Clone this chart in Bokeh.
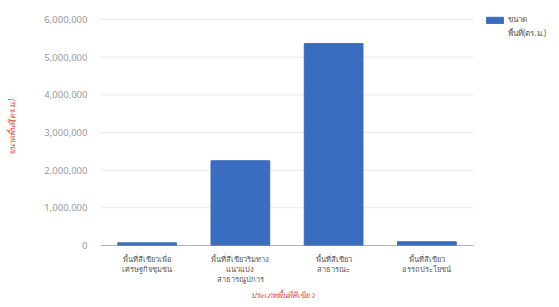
from bokeh.plotting import figure
from bokeh.models import ColumnDataSource, Range1d, NumeralTickFormatter, FixedTicker, Legend, LegendItem, Title
from bokeh.embed import file_html
from bokeh.resources import INLINE

categories = [
    "พื้นที่สีเขียวเพื่อ\nเศรษฐกิจชุมชน",
    "พื้นที่สีเขียวริมทาง\nแนวแบ่ง\nสาธารณูปการ",
    "พื้นที่สีเขียว\nสาธารณะ",
    "พื้นที่สีเขียว\nอรรถประโยชน์",
]
areas = [70000, 2250000, 5360000, 100000]
y_ticks = [0, 1000000, 2000000, 3000000, 4000000, 5000000, 6000000]
x_title = "ประเภทพื้นที่สีเขียว"
y_title = "ขนาดพื้นที่(ตร.ม.)"
legend_lines = ["ขนาด", "พื้นที่(ตร.ม.)"]

FONT = "Noto Sans"
BAR = "#3a6cbf"
RED = "#e0483d"

n = len(categories)
xpos = [i + 0.5 for i in range(n)]
src = ColumnDataSource(dict(x=xpos, val=areas))

FRAME_L, FRAME_R_CAT = 100, 473
W, H = 559, 307
TOP, GRID_TOP, BOTTOM = 8, 19, 245
cat_px = (FRAME_R_CAT - FRAME_L) / n
x_end = (W - FRAME_L) / cat_px
y_max = y_ticks[-1]
y_end = y_max * (BOTTOM - TOP) / (BOTTOM - GRID_TOP)

p = figure(width=W, height=H, output_backend="svg", toolbar_location=None,
           x_range=Range1d(0, x_end), y_range=Range1d(0, y_end),
           min_border_left=FRAME_L, min_border_right=0, min_border_top=TOP,
           min_border_bottom=H - BOTTOM)
p.outline_line_color = None
p.xgrid.grid_line_color = None
p.ygrid.grid_line_color = None

# gridlines within the category area
p.segment(x0=0, x1=n, y0=y_ticks[1:], y1=y_ticks[1:], line_color="#e8e8e8", line_width=1)
r = p.vbar(x="x", top="val", width=0.63, source=src, color=BAR)
p.segment(x0=[0], x1=[n], y0=[0], y1=[0], line_color="#666666", line_width=1.2)
blank = p.scatter(x=[], y=[], alpha=0)

p.yaxis.ticker = FixedTicker(ticks=y_ticks)
p.yaxis.formatter = NumeralTickFormatter(format="0,0")
p.yaxis.axis_line_color = None
p.yaxis.major_tick_line_color = None
p.yaxis.minor_tick_line_color = None
p.yaxis.major_label_text_color = "#9a9a9a"
p.yaxis.major_label_text_font = FONT
p.yaxis.major_label_text_font_size = "9.5px"
p.yaxis.major_label_standoff = 7
p.yaxis.axis_label = y_title
p.yaxis.axis_label_text_color = RED
p.yaxis.axis_label_text_font = FONT
p.yaxis.axis_label_text_font_size = "8px"
p.yaxis.axis_label_text_font_style = "italic"
p.yaxis.axis_label_standoff = 24

p.xaxis.ticker = FixedTicker(ticks=xpos)
p.xaxis.major_label_overrides = {x: c for x, c in zip(xpos, categories)}
p.xaxis.axis_line_color = None
p.xaxis.major_tick_line_color = None
p.xaxis.minor_tick_line_color = None
p.xaxis.major_label_text_color = "#555555"
p.xaxis.major_label_text_font = FONT
p.xaxis.major_label_text_font_size = "7.5px"
p.xaxis.major_label_text_line_height = 1.0
p.xaxis.major_label_standoff = 2

t = Title(text=x_title, align="left", offset=150, text_color=RED, text_font=FONT,
          text_font_size="8px", text_font_style="italic", standoff=0)
p.add_layout(t, "below")

legend = Legend(items=[LegendItem(label=legend_lines[0], renderers=[r]),
                       LegendItem(label=legend_lines[1], renderers=[blank])],
                location=(384, 205), border_line_color=None, background_fill_alpha=0,
                label_text_font=FONT, label_text_font_size="8px", label_text_color="#555555",
                glyph_width=21, glyph_height=8, label_height=9, padding=0, margin=0, spacing=1,
                label_standoff=3)
p.add_layout(legend)

open("out.html", "w").write(file_html(p, INLINE))
